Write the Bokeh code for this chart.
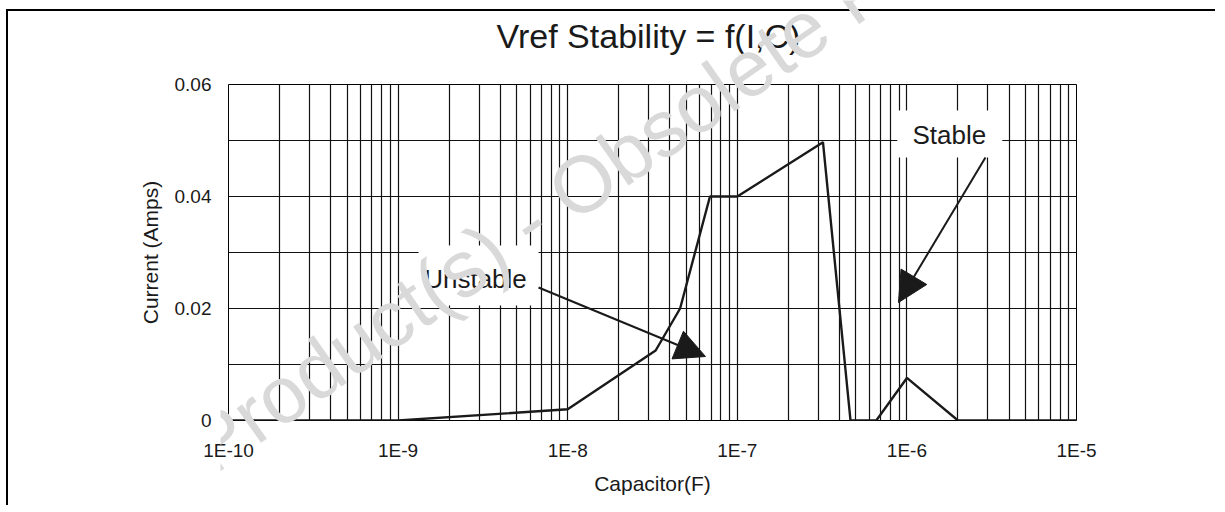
from bokeh.plotting import figure
from bokeh.layouts import column
from bokeh.models import Range1d, FixedTicker, Label, Arrow, NormalHead
from bokeh.embed import file_html
from bokeh.resources import INLINE

# ---- data ----
capacitance = [1e-10, 1e-9, 1e-8, 3.3e-8, 4.6e-8, 6.9e-8, 1.0e-7, 3.2e-7, 4.65e-7, 6.6e-7, 1.0e-6, 2.0e-6, 1e-5]
current = [0.0, 0.0, 0.002, 0.0125, 0.02, 0.04, 0.04, 0.0497, 0.0, 0.0, 0.0076, 0.0, 0.0]

x_ticks = [1e-10, 1e-9, 1e-8, 1e-7, 1e-6, 1e-5]
x_tick_labels = ["1E-10", "1E-9", "1E-8", "1E-7", "1E-6", "1E-5"]
y_ticks = [0.0, 0.02, 0.04, 0.06]
y_tick_labels = ["0", "0.02", "0.04", "0.06"]
y_minor = [0.01, 0.03, 0.05]
x_minor = [m * 10.0 ** k for k in range(-10, -5) for m in range(2, 10)]

title_text = "Vref Stability = f(I,C)"
x_title = "Capacitor(F)"
y_title = "Current (Amps)"
watermark = "Obsolete Product(s) - Obsolete Product(s)"

FONT = "Liberation Sans"
INK = "#1a1a1a"

p = figure(width=1209, height=496, x_axis_type="log",
           x_range=Range1d(1e-10, 1e-5), y_range=Range1d(0, 0.06),
           output_backend="svg", toolbar_location=None,
           min_border_left=220, min_border_right=141,
           min_border_top=73, min_border_bottom=87)
p.styles = {"margin-left": "6px", "margin-top": "9px",
            "border-left": "2px solid black", "border-top": "2px solid black"}
p.title.visible = False

p.outline_line_color = "black"
p.outline_line_width = 1

# x axis
xa = p.xaxis[0]
xa.ticker = FixedTicker(ticks=x_ticks, minor_ticks=x_minor)
xa.major_label_overrides = dict(zip(x_ticks, x_tick_labels))
xa.axis_label = x_title
xa.axis_line_color = None
xa.major_tick_out = 0
xa.major_tick_in = 0
xa.minor_tick_out = 0
xa.minor_tick_in = 0
xa.major_label_standoff = 19
xa.axis_label_standoff = 8
xa.major_label_text_font = FONT
xa.major_label_text_font_size = "19px"
xa.major_label_text_color = INK
xa.axis_label_text_font = FONT
xa.axis_label_text_font_size = "21px"
xa.axis_label_text_font_style = "normal"
xa.axis_label_text_color = INK

# y axis
ya = p.yaxis[0]
ya.ticker = FixedTicker(ticks=y_ticks, minor_ticks=y_minor)
ya.major_label_overrides = dict(zip(y_ticks, y_tick_labels))
ya.axis_label = y_title
ya.axis_line_color = None
ya.major_tick_out = 0
ya.major_tick_in = 0
ya.minor_tick_out = 0
ya.minor_tick_in = 0
ya.major_label_standoff = 17
ya.axis_label_standoff = 10
ya.major_label_text_font = FONT
ya.major_label_text_font_size = "19px"
ya.major_label_text_color = INK
ya.axis_label_text_font = FONT
ya.axis_label_text_font_size = "21px"
ya.axis_label_text_font_style = "normal"
ya.axis_label_text_color = INK

for g in (p.xgrid[0], p.ygrid[0]):
    g.grid_line_color = "#111111"
    g.grid_line_width = 1.2
    g.grid_line_alpha = 1.0
    g.minor_grid_line_color = "#111111"
    g.minor_grid_line_width = 1.2

# white boxes behind annotation texts
box_x = [2.98e-9, 1.79e-6]
box_y = [0.02589, 0.05116]
box_w = [120, 105]
box_h = [60, 47]
p.rect(box_x, box_y, width=box_w, height=box_h, width_units="screen",
       height_units="screen", fill_color="white", line_color=None)

# data line
p.line(capacitance, current, line_color=INK, line_width=2.4)

# arrows
for (xs, ys, xe, ye) in [(6.73e-9, 0.02375, 6.49e-8, 0.01143),
                         (2.905e-6, 0.04696, 8.92e-7, 0.02107)]:
    p.add_layout(Arrow(x_start=xs, y_start=ys, x_end=xe, y_end=ye,
                       line_color=INK, line_width=2,
                       end=NormalHead(size=30, fill_color=INK,
                                      line_color=INK, line_width=1)))

for txt, xx, yy in [("Unstable", 2.86e-9, 0.0252), ("Stable", 1.78e-6, 0.0509)]:
    p.add_layout(Label(x=xx, y=yy, text=txt, text_font=FONT,
                       text_font_size="26px", text_align="center",
                       text_baseline="middle", text_color=INK))

# transparent overlay figure carrying the title and the watermark
W, H = 1220, 506
q = figure(width=W, height=H, x_range=Range1d(0, W), y_range=Range1d(0, H),
           output_backend="svg", toolbar_location=None,
           x_axis_location=None, y_axis_location=None,
           min_border_left=0, min_border_right=0, min_border_top=0,
           min_border_bottom=0, background_fill_color=None,
           border_fill_color=None, outline_line_color=None)
q.grid.visible = False
q.title.visible = False
q.styles = {"position": "absolute", "top": "0px", "left": "0px",
            "pointer-events": "none"}
q.add_layout(Label(x=428, y=H - 36, x_units="screen", y_units="screen",
                   text=title_text, text_font=FONT, text_font_size="34px",
                   text_align="center", text_baseline="middle",
                   text_color=INK))
q.add_layout(Label(x=-304, y=-145, x_units="screen", y_units="screen",
                   text=watermark, text_font=FONT,
                   text_font_size="80px", angle=35, angle_units="deg",
                   text_align="left", text_baseline="alphabetic",
                   text_color="#d9d9d9"))

layout = column(p, q)
open("out.html", "w").write(file_html(layout, INLINE))
